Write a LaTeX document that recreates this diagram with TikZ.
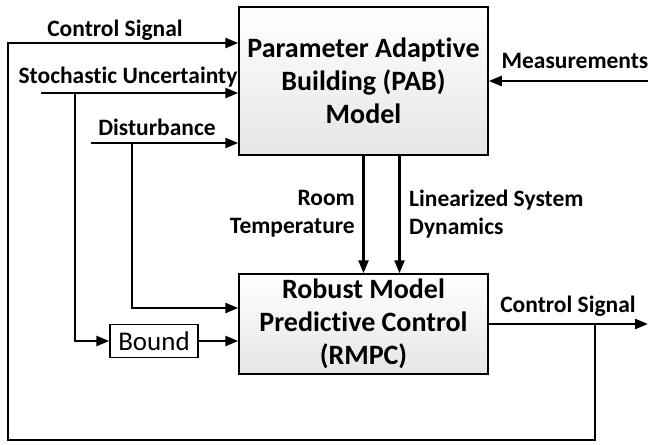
\documentclass[tikz,border=0pt]{standalone}
\usepackage{fontspec}
\setmainfont{Carlito}[Ligatures=NoCommon]
\usetikzlibrary{arrows.meta,positioning}
\tikzset{
  block/.style={draw, line width=1.5pt, top color=white, bottom color=gray!20,
    font=\bfseries\fontsize{28}{33}\selectfont, align=center, inner sep=0pt},
  boundbox/.style={draw, line width=1.5pt, fill=white, minimum width=88pt,
    minimum height=33pt, inner sep=0pt, font=\fontsize{27}{30}\selectfont},
  sig/.style={line width=2.5pt, -{Triangle[length=13pt,width=10pt]}},
  lbl/.style={font=\bfseries\fontsize{23.5}{28}\selectfont, inner sep=0pt}
}
\begin{document}
\begin{tikzpicture}[x=1pt, y=-1pt]
  \useasboundingbox (0,0) rectangle (649,445);

  \node[block, minimum width=249pt, minimum height=148pt] (pab) at (363.5,81)
    {Parameter Adaptive\\Building (PAB)\\Model};
  \node[block, minimum width=249pt, minimum height=100pt] (rmpc) at (363.5,324)
    {Robust Model\\Predictive Control\\(RMPC)};
  \node[boundbox] (bound) at (154,341) {Bound};

  % free ends and taps
  \coordinate (cs) at (8,43);
  \coordinate (su) at (41,93);
  \coordinate (sutap) at (75,93);
  \coordinate (dist) at (91,143);
  \coordinate (disttap) at (132,143);
  \coordinate (distin) at (132,308);
  \coordinate (meas) at (648,81);
  \coordinate (out) at (648,324);
  \coordinate (fbtap) at (595,324);
  \coordinate (fbcorner) at (8,440);

  % inputs of the PAB model
  \draw[sig] (fbtap) |- (fbcorner) |- (pab.west |- cs);
  \draw[sig] (su) -- (pab.west |- su);
  \draw[sig] (dist) -- (pab.west |- dist);
  \draw[sig] (meas) -- (pab.east |- meas);

  % inputs of the RMPC
  \draw[sig] (sutap) |- (bound.west);
  \draw[sig] (bound) -- (rmpc.west |- bound);
  \draw[sig] (disttap) |- (rmpc.west |- distin);
  \draw[sig] (pab.south) -- (rmpc.north);
  \draw[sig] ([xshift=36pt]pab.south) -- ([xshift=36pt]rmpc.north);
  \draw[sig] (rmpc.east |- out) -- (out);

  % labels
  \node[lbl] (cslbl) at (115,30) {Control Signal};
  \node[lbl] (sulbl) at (128,77) {Stochastic Uncertainty};
  \node[lbl] (distlbl) at (157,127) {Disturbance};
  \node[lbl] (measlbl) at (575,61) {Measurements};
  \node[lbl, align=right, anchor=east] (rtlbl) at (355,214) {Room\\Temperature};
  \node[lbl, align=left, anchor=west] (lsdlbl) at (409,214) {Linearized System\\Dynamics};
  \node[lbl] (outlbl) at (568,306) {Control Signal};
\end{tikzpicture}
\end{document}
